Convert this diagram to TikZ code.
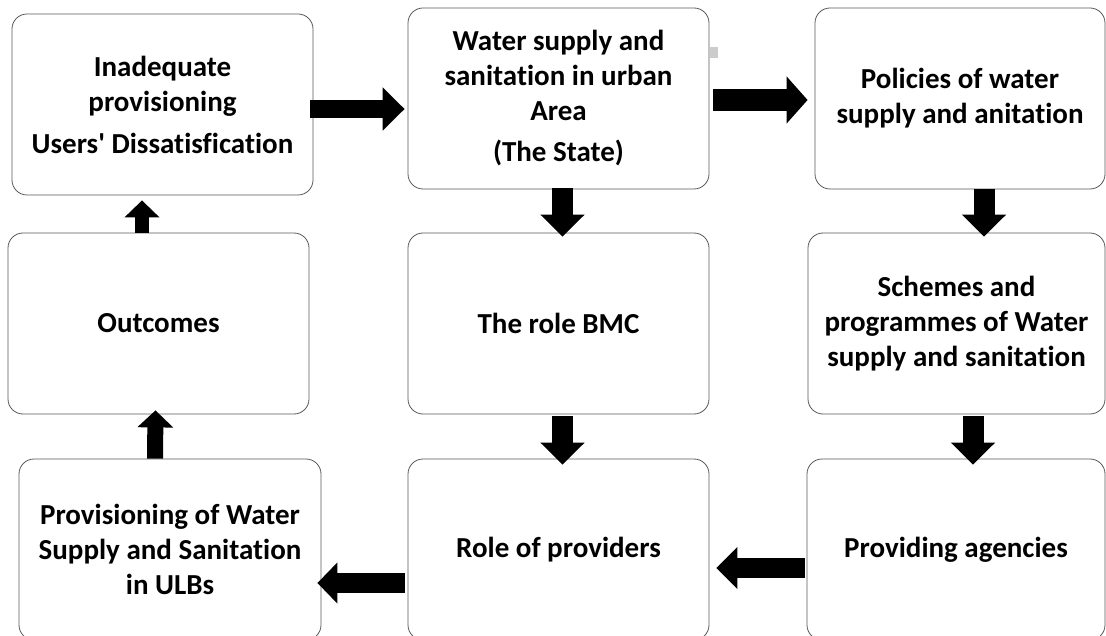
\documentclass[tikz,border=0pt]{standalone}
\usepackage{fontspec}
\setmainfont{Carlito}[Ligatures={TeX,NoCommon}]
\usetikzlibrary{arrows.meta,positioning}

\begin{document}
\begin{tikzpicture}[x=1pt,y=-1pt,
  box/.style={draw=black!65,line width=0.8pt,rounded corners=15pt,minimum width=301pt,minimum height=181pt,inner sep=0pt,align=center,font=\bfseries\fontsize{29}{35}\selectfont},
  bigarrow/.style={line width=21pt,-{Triangle[length=22pt,width=43pt]}},
  smallarrow/.style={line width=15pt,-{Triangle[length=17pt,width=35pt]}}]
\clip (0,0) rectangle (1106,636);
\fill [white] (0,0) rectangle (1106,636);
% top row
\node [box] (inadequate) at (162.5,104.5) {Inadequate\\provisioning\\[7pt]Users\textquotesingle{} Dissatisfication};
\node [box] (state) at (558.5,98.5) {Water supply and\\sanitation in urban\\Area\\[6pt](The State)};
\node [box,minimum width=290pt] (policies) at (960,98.5) {Policies of water\\supply and anitation};
% middle row
\node [box] (outcomes) at (158.5,323.5) {Outcomes};
\node [box] (bmc) at (558.5,323.5) {The role BMC};
\node [box,minimum width=297pt] (schemes) at (956.5,323.5) {Schemes and\\programmes of Water\\supply and sanitation};
% bottom row
\node [box,minimum width=302pt] (ulbs) at (170,549.5) {Provisioning of Water\\Supply and Sanitation\\in ULBs};
\node [box] (providers) at (558.5,549.5) {Role of providers};
\node [box,minimum width=298pt] (agencies) at (956,549.5) {Providing agencies};
\fill [black!20] (710,47) rectangle (718,58);
% block arrows
\draw [bigarrow,line width=18pt,-{Triangle[length=22pt,width=42pt]}] ([shift={(-3,4.5)}]inadequate.east) -- ([shift={(-3,10.5)}]state.west);
\draw [bigarrow,line width=22pt,-{Triangle[length=21pt,width=46pt]}] ([shift={(4,1.5)}]state.east) -- ([shift={(-7,1.5)}]policies.west);
\draw [bigarrow] ([shift={(4,-1)}]state.south) -- ([shift={(4,4)}]bmc.north);
\draw [bigarrow] ([shift={(24,0)}]policies.south) -- ([shift={(27.5,4)}]schemes.north);
\draw [bigarrow] ([shift={(16.5,2)}]schemes.south) -- ([shift={(17,6)}]agencies.north);
\draw [bigarrow] ([shift={(4,2)}]bmc.south) -- ([shift={(4,6)}]providers.north);
\draw [bigarrow,line width=20pt,-{Triangle[length=21pt,width=41pt]}] ([shift={(-2,18.5)}]agencies.west) -- ([shift={(7,18.5)}]providers.east);
\draw [bigarrow,line width=20pt,-{Triangle[length=20pt,width=40pt]}] ([shift={(-3,33.5)}]providers.west) -- ([shift={(-4,33.5)}]ulbs.east);
\draw [smallarrow,line width=16pt] ([shift={(-15,0)}]ulbs.north) -- ([shift={(-3,-4)}]outcomes.south);
\draw [smallarrow,line width=14pt,-{Triangle[length=17pt,width=34pt]}] ([shift={(-16.5,0)}]outcomes.north) -- ([shift={(-20.5,5)}]inadequate.south);
\end{tikzpicture}
\end{document}
